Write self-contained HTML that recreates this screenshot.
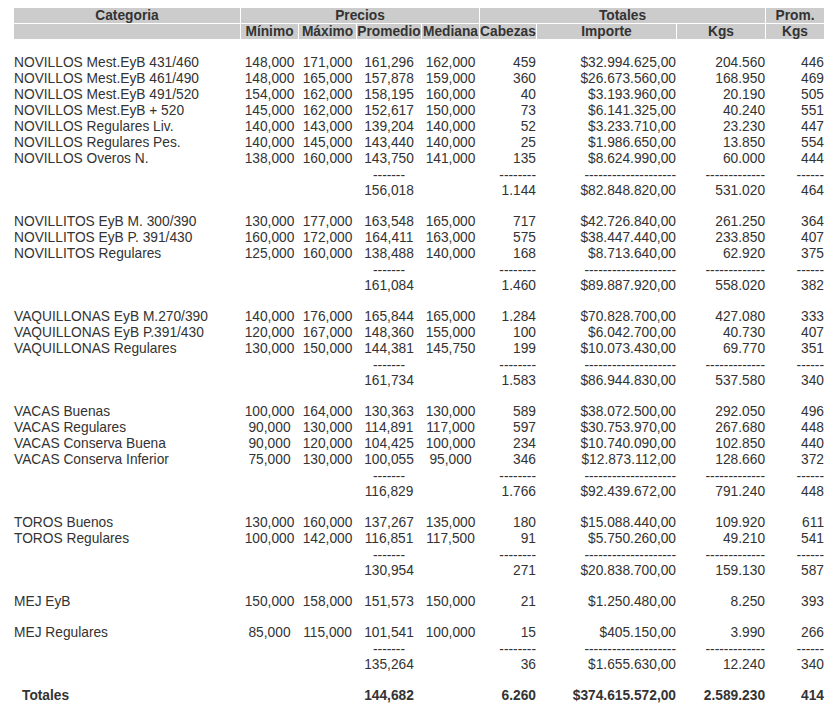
<!DOCTYPE html>
<html><head><meta charset="utf-8"><title>Precios</title>
<style>
html,body{margin:0;padding:0;background:#fff;}
body{width:838px;height:728px;overflow:hidden;position:relative;}
table{position:absolute;left:13px;top:7px;border-collapse:separate;border-spacing:1px;table-layout:fixed;width:812px;
 font-family:"Liberation Sans",sans-serif;font-size:13.75px;line-height:15px;color:#333;}
td,th{padding:0;height:15px;white-space:nowrap;overflow:visible;vertical-align:middle;}
th{background:#ccc;font-weight:bold;text-align:center;}
tr.b td{height:14px;line-height:14px;font-size:1px;}
.l{text-align:left;}
.c{text-align:center;}
.r{text-align:right;}
tr.t td{font-weight:bold;}
td.tot{padding-left:8px;}
.d{position:relative;top:1px;}
</style></head><body>
<table>
<colgroup><col style="width:226px"><col style="width:57px"><col style="width:57px"><col style="width:64px"><col style="width:57px"><col style="width:56px"><col style="width:139px"><col style="width:88px"><col style="width:58px"></colgroup>
<tr class="h"><th>Categoria</th><th colspan="4">Precios</th><th colspan="3">Totales</th><th>Prom.</th></tr>
<tr class="h"><th></th><th>M&iacute;nimo</th><th>M&aacute;ximo</th><th>Promedio</th><th>Mediana</th><th>Cabezas</th><th>Importe</th><th>Kgs</th><th>Kgs</th></tr>
<tr class="b"><td colspan="9"></td></tr>
<tr><td class="l">NOVILLOS Mest.EyB 431/460</td><td class="c">148,000</td><td class="c">171,000</td><td class="c">161,296</td><td class="c">162,000</td><td class="r">459</td><td class="r">$32.994.625,00</td><td class="r">204.560</td><td class="r">446</td></tr>
<tr><td class="l">NOVILLOS Mest.EyB 461/490</td><td class="c">148,000</td><td class="c">165,000</td><td class="c">157,878</td><td class="c">159,000</td><td class="r">360</td><td class="r">$26.673.560,00</td><td class="r">168.950</td><td class="r">469</td></tr>
<tr><td class="l">NOVILLOS Mest.EyB 491/520</td><td class="c">154,000</td><td class="c">162,000</td><td class="c">158,195</td><td class="c">160,000</td><td class="r">40</td><td class="r">$3.193.960,00</td><td class="r">20.190</td><td class="r">505</td></tr>
<tr><td class="l">NOVILLOS Mest.EyB + 520</td><td class="c">145,000</td><td class="c">162,000</td><td class="c">152,617</td><td class="c">150,000</td><td class="r">73</td><td class="r">$6.141.325,00</td><td class="r">40.240</td><td class="r">551</td></tr>
<tr><td class="l">NOVILLOS Regulares Liv.</td><td class="c">140,000</td><td class="c">143,000</td><td class="c">139,204</td><td class="c">140,000</td><td class="r">52</td><td class="r">$3.233.710,00</td><td class="r">23.230</td><td class="r">447</td></tr>
<tr><td class="l">NOVILLOS Regulares Pes.</td><td class="c">140,000</td><td class="c">145,000</td><td class="c">143,440</td><td class="c">140,000</td><td class="r">25</td><td class="r">$1.986.650,00</td><td class="r">13.850</td><td class="r">554</td></tr>
<tr><td class="l">NOVILLOS Overos N.</td><td class="c">138,000</td><td class="c">160,000</td><td class="c">143,750</td><td class="c">141,000</td><td class="r">135</td><td class="r">$8.624.990,00</td><td class="r">60.000</td><td class="r">444</td></tr>
<tr><td class="l"></td><td class="c"></td><td class="c"></td><td class="c"><span class="d">-------</span></td><td class="c"></td><td class="r"><span class="d">--------</span></td><td class="r"><span class="d">--------------------</span></td><td class="r"><span class="d">-------------</span></td><td class="r"><span class="d">------</span></td></tr>
<tr><td class="l"></td><td class="c"></td><td class="c"></td><td class="c">156,018</td><td class="c"></td><td class="r">1.144</td><td class="r">$82.848.820,00</td><td class="r">531.020</td><td class="r">464</td></tr>
<tr class="b"><td colspan="9"></td></tr>
<tr><td class="l">NOVILLITOS EyB M. 300/390</td><td class="c">130,000</td><td class="c">177,000</td><td class="c">163,548</td><td class="c">165,000</td><td class="r">717</td><td class="r">$42.726.840,00</td><td class="r">261.250</td><td class="r">364</td></tr>
<tr><td class="l">NOVILLITOS EyB P. 391/430</td><td class="c">160,000</td><td class="c">172,000</td><td class="c">164,411</td><td class="c">163,000</td><td class="r">575</td><td class="r">$38.447.440,00</td><td class="r">233.850</td><td class="r">407</td></tr>
<tr><td class="l">NOVILLITOS Regulares</td><td class="c">125,000</td><td class="c">160,000</td><td class="c">138,488</td><td class="c">140,000</td><td class="r">168</td><td class="r">$8.713.640,00</td><td class="r">62.920</td><td class="r">375</td></tr>
<tr><td class="l"></td><td class="c"></td><td class="c"></td><td class="c"><span class="d">-------</span></td><td class="c"></td><td class="r"><span class="d">--------</span></td><td class="r"><span class="d">--------------------</span></td><td class="r"><span class="d">-------------</span></td><td class="r"><span class="d">------</span></td></tr>
<tr><td class="l"></td><td class="c"></td><td class="c"></td><td class="c">161,084</td><td class="c"></td><td class="r">1.460</td><td class="r">$89.887.920,00</td><td class="r">558.020</td><td class="r">382</td></tr>
<tr class="b"><td colspan="9"></td></tr>
<tr><td class="l">VAQUILLONAS EyB M.270/390</td><td class="c">140,000</td><td class="c">176,000</td><td class="c">165,844</td><td class="c">165,000</td><td class="r">1.284</td><td class="r">$70.828.700,00</td><td class="r">427.080</td><td class="r">333</td></tr>
<tr><td class="l">VAQUILLONAS EyB P.391/430</td><td class="c">120,000</td><td class="c">167,000</td><td class="c">148,360</td><td class="c">155,000</td><td class="r">100</td><td class="r">$6.042.700,00</td><td class="r">40.730</td><td class="r">407</td></tr>
<tr><td class="l">VAQUILLONAS Regulares</td><td class="c">130,000</td><td class="c">150,000</td><td class="c">144,381</td><td class="c">145,750</td><td class="r">199</td><td class="r">$10.073.430,00</td><td class="r">69.770</td><td class="r">351</td></tr>
<tr><td class="l"></td><td class="c"></td><td class="c"></td><td class="c"><span class="d">-------</span></td><td class="c"></td><td class="r"><span class="d">--------</span></td><td class="r"><span class="d">--------------------</span></td><td class="r"><span class="d">-------------</span></td><td class="r"><span class="d">------</span></td></tr>
<tr><td class="l"></td><td class="c"></td><td class="c"></td><td class="c">161,734</td><td class="c"></td><td class="r">1.583</td><td class="r">$86.944.830,00</td><td class="r">537.580</td><td class="r">340</td></tr>
<tr class="b"><td colspan="9"></td></tr>
<tr><td class="l">VACAS Buenas</td><td class="c">100,000</td><td class="c">164,000</td><td class="c">130,363</td><td class="c">130,000</td><td class="r">589</td><td class="r">$38.072.500,00</td><td class="r">292.050</td><td class="r">496</td></tr>
<tr><td class="l">VACAS Regulares</td><td class="c">90,000</td><td class="c">130,000</td><td class="c">114,891</td><td class="c">117,000</td><td class="r">597</td><td class="r">$30.753.970,00</td><td class="r">267.680</td><td class="r">448</td></tr>
<tr><td class="l">VACAS Conserva Buena</td><td class="c">90,000</td><td class="c">120,000</td><td class="c">104,425</td><td class="c">100,000</td><td class="r">234</td><td class="r">$10.740.090,00</td><td class="r">102.850</td><td class="r">440</td></tr>
<tr><td class="l">VACAS Conserva Inferior</td><td class="c">75,000</td><td class="c">130,000</td><td class="c">100,055</td><td class="c">95,000</td><td class="r">346</td><td class="r">$12.873.112,00</td><td class="r">128.660</td><td class="r">372</td></tr>
<tr><td class="l"></td><td class="c"></td><td class="c"></td><td class="c"><span class="d">-------</span></td><td class="c"></td><td class="r"><span class="d">--------</span></td><td class="r"><span class="d">--------------------</span></td><td class="r"><span class="d">-------------</span></td><td class="r"><span class="d">------</span></td></tr>
<tr><td class="l"></td><td class="c"></td><td class="c"></td><td class="c">116,829</td><td class="c"></td><td class="r">1.766</td><td class="r">$92.439.672,00</td><td class="r">791.240</td><td class="r">448</td></tr>
<tr class="b"><td colspan="9"></td></tr>
<tr><td class="l">TOROS Buenos</td><td class="c">130,000</td><td class="c">160,000</td><td class="c">137,267</td><td class="c">135,000</td><td class="r">180</td><td class="r">$15.088.440,00</td><td class="r">109.920</td><td class="r">611</td></tr>
<tr><td class="l">TOROS Regulares</td><td class="c">100,000</td><td class="c">142,000</td><td class="c">116,851</td><td class="c">117,500</td><td class="r">91</td><td class="r">$5.750.260,00</td><td class="r">49.210</td><td class="r">541</td></tr>
<tr><td class="l"></td><td class="c"></td><td class="c"></td><td class="c"><span class="d">-------</span></td><td class="c"></td><td class="r"><span class="d">--------</span></td><td class="r"><span class="d">--------------------</span></td><td class="r"><span class="d">-------------</span></td><td class="r"><span class="d">------</span></td></tr>
<tr><td class="l"></td><td class="c"></td><td class="c"></td><td class="c">130,954</td><td class="c"></td><td class="r">271</td><td class="r">$20.838.700,00</td><td class="r">159.130</td><td class="r">587</td></tr>
<tr class="b"><td colspan="9"></td></tr>
<tr><td class="l">MEJ EyB</td><td class="c">150,000</td><td class="c">158,000</td><td class="c">151,573</td><td class="c">150,000</td><td class="r">21</td><td class="r">$1.250.480,00</td><td class="r">8.250</td><td class="r">393</td></tr>
<tr class="b"><td colspan="9"></td></tr>
<tr><td class="l">MEJ Regulares</td><td class="c">85,000</td><td class="c">115,000</td><td class="c">101,541</td><td class="c">100,000</td><td class="r">15</td><td class="r">$405.150,00</td><td class="r">3.990</td><td class="r">266</td></tr>
<tr><td class="l"></td><td class="c"></td><td class="c"></td><td class="c"><span class="d">-------</span></td><td class="c"></td><td class="r"><span class="d">--------</span></td><td class="r"><span class="d">--------------------</span></td><td class="r"><span class="d">-------------</span></td><td class="r"><span class="d">------</span></td></tr>
<tr><td class="l"></td><td class="c"></td><td class="c"></td><td class="c">135,264</td><td class="c"></td><td class="r">36</td><td class="r">$1.655.630,00</td><td class="r">12.240</td><td class="r">340</td></tr>
<tr class="b"><td colspan="9"></td></tr>
<tr class="t"><td class="l tot">Totales</td><td></td><td></td><td class="c">144,682</td><td></td><td class="r">6.260</td><td class="r">$374.615.572,00</td><td class="r">2.589.230</td><td class="r">414</td></tr>
</table>
</body></html>
